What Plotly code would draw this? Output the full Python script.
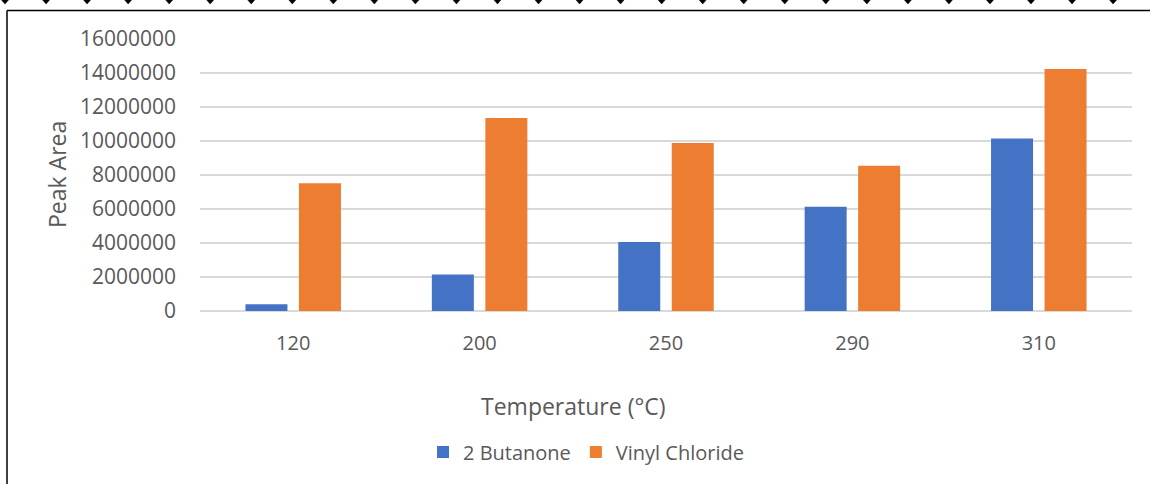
import plotly.graph_objects as go

categories = ["120", "200", "250", "290", "310"]
butanone = [400000, 2150000, 4060000, 6130000, 10140000]
vinyl_chloride = [7510000, 11350000, 9880000, 8550000, 14240000]
series_names = ["2 Butanone", "Vinyl Chloride"]
y_ticks = [0, 2000000, 4000000, 6000000, 8000000, 10000000, 12000000, 14000000, 16000000]

W, H = 1150, 484
L, R, T, B = 200, 1132, 39, 311

def px(x):
    return (x - L) / (R - L)

def py(y):
    return (B - y) / (B - T)

FONT = "Open Sans"
GREY = "#595959"

fig = go.Figure()
fig.add_trace(go.Bar(x=categories, y=butanone, name=series_names[0],
                     marker=dict(color="#4472C4", line=dict(width=0))))
fig.add_trace(go.Bar(x=categories, y=vinyl_chloride, name=series_names[1],
                     marker=dict(color="#ED7D31", line=dict(width=0))))

shapes = []
# chart border (left and top edges visible)
shapes.append(dict(type="line", xref="paper", yref="paper", x0=px(7), x1=px(1160), y0=py(10.5), y1=py(10.5),
                   line=dict(color="black", width=1.5)))
shapes.append(dict(type="line", xref="paper", yref="paper", x0=px(7), x1=px(7), y0=py(10.5), y1=py(490),
                   line=dict(color="black", width=1.5)))
# decorative diamonds along the top edge
for k in range(28):
    cx = 5 + 41.04 * k
    path = "M {:.4f},{:.4f} L {:.4f},{:.4f} L {:.4f},{:.4f} L {:.4f},{:.4f} Z".format(
        px(cx - 3.5), py(0), px(cx), py(-4), px(cx + 3.5), py(0), px(cx), py(4))
    shapes.append(dict(type="path", xref="paper", yref="paper", path=path,
                       fillcolor="black", line=dict(color="black", width=0.5)))

fig.update_layout(
    width=W, height=H,
    margin=dict(l=L, r=W - R, t=T, b=H - B, pad=0),
    paper_bgcolor="white", plot_bgcolor="white",
    barmode="group", bargap=0.426, bargroupgap=0.215,
    font=dict(family=FONT, color=GREY, size=20),
    showlegend=True,
    legend=dict(orientation="h", x=px(586), xanchor="center", y=py(452), yanchor="middle",
                font=dict(family=FONT, size=20, color=GREY), itemwidth=30,
                bgcolor="rgba(0,0,0,0)", traceorder="normal"),
    xaxis=dict(showgrid=False, showline=False, ticks="", tickfont=dict(size=20, color=GREY),
               ticklabelstandoff=18),
    yaxis=dict(range=[0, 16000000], tickvals=y_ticks, tickformat="d",
               showgrid=True, gridcolor="#D9D9D9", gridwidth=1.5,
               zeroline=True, zerolinecolor="#D9D9D9", zerolinewidth=1.5,
               showline=False, ticks="", tickfont=dict(size=21, color=GREY),
               ticklabelstandoff=23),
    shapes=shapes,
    annotations=[
        dict(text="Peak Area", xref="paper", yref="paper", x=px(57), y=py(175),
             xanchor="center", yanchor="middle", textangle=-90, showarrow=False,
             font=dict(family=FONT, size=23, color=GREY)),
        dict(text="Temperature (°C)", xref="paper", yref="paper", x=px(573), y=py(406),
             xanchor="center", yanchor="middle", showarrow=False,
             font=dict(family=FONT, size=23, color=GREY)),
    ],
)

fig.write_html("out.html")
